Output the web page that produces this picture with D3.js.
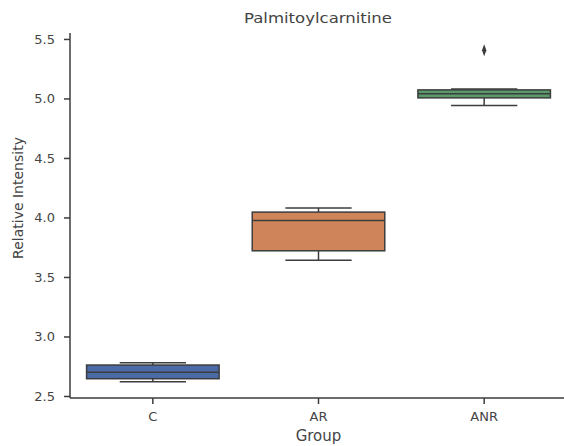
<!DOCTYPE html>
<html>
<head>
<meta charset="utf-8">
<script src="https://cdn.jsdelivr.net/npm/d3@7.9.0/dist/d3.min.js"></script>
<style>
  body { margin: 0; background: #fff; }
  svg { display: block; font-family: "DejaVu Sans", sans-serif; }
</style>
</head>
<body>
<svg id="chart" width="564" height="446"></svg>
<script>
// box stats
const groups = ['C', 'AR', 'ANR'];
const whiskerLow = [2.62, 3.64, 4.94];
const q1 = [2.645, 3.72, 5.005];
const median = [2.70, 3.975, 5.04];
const q3 = [2.76, 4.045, 5.072];
const whiskerHigh = [2.78, 4.08, 5.08];
const outliers = [[], [], [5.405]];
const fills = ['#4a6aa8', '#d0845a', '#5a9a6a'];
const yTicks = [2.5, 3.0, 3.5, 4.0, 4.5, 5.0, 5.5];

const svg = d3.select('#chart');
const plotLeft = 70, plotRight = 567, plotTop = 33, plotBottom = 398;
const lineColor = '#3d3d3d';

const x = d3.scaleBand().domain(groups).range([plotLeft, plotRight]).paddingInner(0).paddingOuter(0);
const y = d3.scaleLinear().domain([2.483, 5.55]).range([plotBottom, plotTop]);

const boxes = groups.map((g, i) => ({
  g, lo: whiskerLow[i], q1: q1[i], med: median[i], q3: q3[i], hi: whiskerHigh[i],
  out: outliers[i], fill: fills[i]
}));

const bw = x.bandwidth() * 0.8;
const gBox = svg.append('g');
boxes.forEach(b => {
  const cx = x(b.g) + x.bandwidth() / 2;
  // whiskers
  gBox.append('line').attr('x1', cx).attr('x2', cx).attr('y1', y(b.q3)).attr('y2', y(b.hi))
    .attr('stroke', lineColor).attr('stroke-width', 1.5);
  gBox.append('line').attr('x1', cx).attr('x2', cx).attr('y1', y(b.q1)).attr('y2', y(b.lo))
    .attr('stroke', lineColor).attr('stroke-width', 1.5);
  gBox.append('line').attr('x1', cx - bw / 4).attr('x2', cx + bw / 4).attr('y1', y(b.hi)).attr('y2', y(b.hi))
    .attr('stroke', lineColor).attr('stroke-width', 1.5);
  gBox.append('line').attr('x1', cx - bw / 4).attr('x2', cx + bw / 4).attr('y1', y(b.lo)).attr('y2', y(b.lo))
    .attr('stroke', lineColor).attr('stroke-width', 1.5);
  gBox.append('rect')
    .attr('x', cx - bw / 2).attr('width', bw)
    .attr('y', y(b.q3)).attr('height', y(b.q1) - y(b.q3))
    .attr('fill', b.fill).attr('stroke', lineColor).attr('stroke-width', 1.5);
  gBox.append('line').attr('x1', cx - bw / 2).attr('x2', cx + bw / 2).attr('y1', y(b.med)).attr('y2', y(b.med))
    .attr('stroke', lineColor).attr('stroke-width', 1.5);
  b.out.forEach(v => {
    gBox.append('path')
      .attr('d', d3.symbol(d3.symbolDiamond, 30)())
      .attr('transform', `translate(${cx},${y(v)}) scale(0.75,1.2)`)
      .attr('fill', lineColor);
  });
});

// axes
const yAxis = svg.append('g').attr('transform', `translate(${plotLeft},0)`)
  .call(d3.axisLeft(y).tickValues(yTicks).tickFormat(d3.format('.1f')).tickSize(6).tickPadding(9));
const xAxis = svg.append('g').attr('transform', `translate(0,${plotBottom})`)
  .call(d3.axisBottom(x).tickSize(6).tickPadding(8));
[yAxis, xAxis].forEach(a => {
  a.select('.domain').attr('stroke', lineColor).attr('stroke-width', 1.5);
  a.selectAll('.tick line').attr('stroke', lineColor).attr('stroke-width', 1.5);
  a.selectAll('.tick text').attr('fill', '#444').style('font-size', '13px')
    .style('font-family', '"DejaVu Sans", sans-serif');
});
yAxis.select('.domain').attr('d', `M0,${plotBottom}V${plotTop}`);
xAxis.select('.domain').attr('d', `M${plotLeft},0H${plotRight}`);

svg.append('text').attr('x', 318).attr('y', 23).attr('text-anchor', 'middle')
  .attr('fill', '#444').style('font-size', '14px')
  .attr('textLength', 148).attr('lengthAdjust', 'spacingAndGlyphs')
  .text('Palmitoylcarnitine');
svg.append('text').attr('x', (plotLeft + plotRight) / 2).attr('y', 441).attr('text-anchor', 'middle')
  .attr('fill', '#444').style('font-size', '15px').text('Group');
svg.append('text').attr('transform', 'translate(23,198) rotate(-90)').attr('text-anchor', 'middle')
  .attr('fill', '#444').style('font-size', '14px').text('Relative Intensity');
</script>
</body>
</html>
